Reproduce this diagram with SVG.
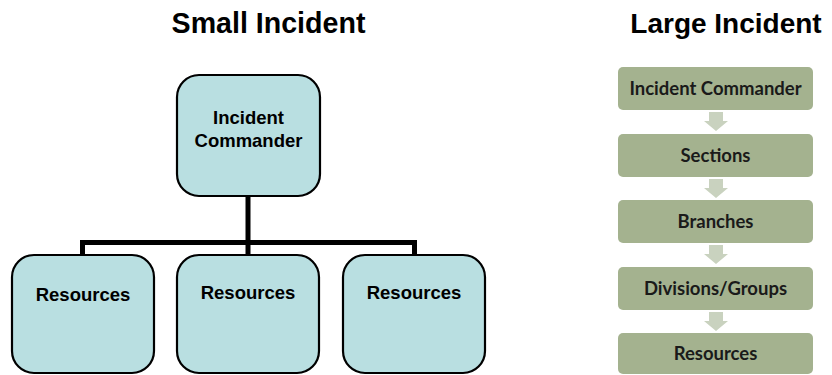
<svg xmlns="http://www.w3.org/2000/svg" width="832" height="375" viewBox="0 0 832 375">
<style>
.title{font-family:"Liberation Sans",Arial,sans-serif;font-weight:bold;font-size:28px;fill:#000;text-anchor:middle}
.bx{fill:#b9dfe1;stroke:#000;stroke-width:2.2}
.bt{font-family:"Liberation Sans",Arial,sans-serif;font-weight:bold;font-size:18.5px;fill:#000;text-anchor:middle}
.gb{fill:#a4b28f}
.gt{font-family:Lato,"Open Sans",sans-serif;font-weight:bold;font-size:18.5px;fill:#1a1a1a;text-anchor:middle}
.ar{fill:#c9d2bf}
.conn{fill:none;stroke:#000;stroke-width:5;stroke-linejoin:miter}
</style>
<defs>
<path id="arrow" class="ar" d="M-7,0 H7 V9 H12 L0,19 L-12,9 H-7 Z"/>
</defs>
<text class="title" x="268.5" y="33" style="font-size:28.6px">Small Incident</text>
<text class="title" x="726" y="33">Large Incident</text>
<g id="connectors">
<path class="conn" d="M82.5,256 V242.5 H414.5 V256"/>
<path class="conn" d="M248,196 V256"/>
<use href="#arrow" x="716" y="112"/>
<use href="#arrow" x="716" y="179"/>
<use href="#arrow" x="716" y="245"/>
<use href="#arrow" x="716" y="312"/>
</g>
<g id="ic-small">
<rect class="bx" x="177" y="75" width="143" height="121" rx="22"/>
<text class="bt" x="248.5" y="124">Incident</text>
<text class="bt" x="248.5" y="147">Commander</text>
</g>
<g id="res1">
<rect class="bx" x="12" y="255" width="142" height="118" rx="22"/>
<text class="bt" x="83" y="301">Resources</text>
</g>
<g id="res2">
<rect class="bx" x="177" y="255" width="142" height="118" rx="22"/>
<text class="bt" x="248" y="299">Resources</text>
</g>
<g id="res3">
<rect class="bx" x="343" y="255" width="142" height="118" rx="22"/>
<text class="bt" x="414" y="299">Resources</text>
</g>
<g id="ic-large">
<rect class="gb" x="618" y="67" width="195" height="43" rx="5"/>
<text class="gt" x="715.5" y="94.5">Incident Commander</text>
</g>
<g id="sections">
<rect class="gb" x="618" y="134" width="195" height="43" rx="5"/>
<text class="gt" x="715.5" y="161.5">Sections</text>
</g>
<g id="branches">
<rect class="gb" x="618" y="200" width="195" height="43" rx="5"/>
<text class="gt" x="715.5" y="227.5">Branches</text>
</g>
<g id="divisions">
<rect class="gb" x="618" y="267" width="195" height="43" rx="5"/>
<text class="gt" x="715.5" y="294.5">Divisions/Groups</text>
</g>
<g id="resources-large">
<rect class="gb" x="618" y="333" width="195" height="41" rx="5"/>
<text class="gt" x="715.5" y="359.5">Resources</text>
</g>
</svg>
